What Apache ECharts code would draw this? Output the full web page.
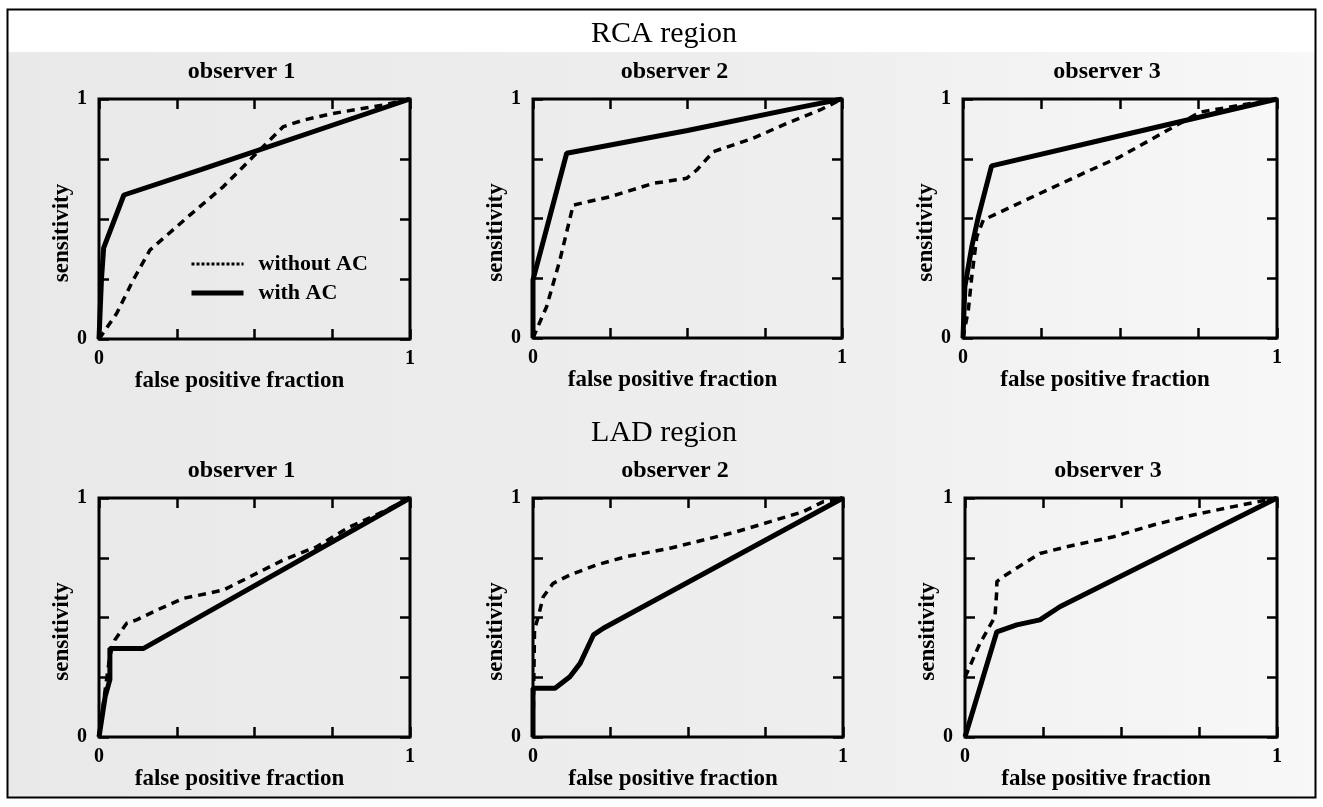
<!DOCTYPE html>
<html>
<head>
<meta charset="utf-8">
<script src="https://cdn.jsdelivr.net/npm/echarts@6/dist/echarts.min.js"></script>
<style>
html,body{margin:0;padding:0;background:#fff}
#main{width:1323px;height:807px}
</style>
</head>
<body>
<div id="main"></div>
<script>
// 刻度
var ticks = [0, 0.25, 0.5, 0.75, 1];
var tickLabels = ['0', '', '', '', '1'];
var regions = ['RCA region', 'LAD region'];
var observers = ['observer 1', 'observer 2', 'observer 3'];
var seriesNames = ['without AC', 'with AC'];

// RCA region  [false positive fraction, sensitivity]
var rca1Without = [[0,0],[0.057,0.107],[0.11,0.246],[0.164,0.371],[0.293,0.517],[0.40,0.635],[0.496,0.76],[0.55,0.83],[0.593,0.885],[0.657,0.912],[0.753,0.94],[0.914,0.975],[1,1]];
var rca1With = [[0,0],[0.008,0.25],[0.015,0.38],[0.08,0.60],[0.33,0.707],[1,1]];
var rca2Without = [[0,0],[0.044,0.131],[0.087,0.326],[0.13,0.556],[0.249,0.591],[0.389,0.647],[0.497,0.668],[0.53,0.703],[0.584,0.78],[0.713,0.836],[0.821,0.898],[0.929,0.954],[1,1]];
var rca2With = [[0,0],[0,0.243],[0.109,0.773],[0.5,0.868],[0.875,0.968],[1,1]];
var rca3Without = [[0,0],[0.017,0.117],[0.028,0.257],[0.044,0.424],[0.065,0.494],[0.224,0.592],[0.383,0.689],[0.5,0.758],[0.681,0.891],[0.755,0.945],[1,1]];
var rca3With = [[0,0],[0.006,0.215],[0.028,0.382],[0.049,0.508],[0.091,0.72],[0.5,0.846],[1,1]];

// LAD region
var lad1Without = [[0,0],[0.02,0.2],[0.035,0.34],[0.051,0.406],[0.089,0.476],[0.121,0.49],[0.186,0.531],[0.271,0.58],[0.346,0.6],[0.40,0.615],[0.486,0.671],[0.593,0.741],[0.7,0.796],[0.807,0.88],[0.914,0.943],[1,1]];
var lad1With = [[0,0],[0.02,0.17],[0.035,0.24],[0.035,0.37],[0.142,0.37],[1,1]];
var lad2Without = [[0,0],[0.005,0.45],[0.017,0.503],[0.033,0.587],[0.065,0.643],[0.119,0.678],[0.205,0.72],[0.302,0.755],[0.442,0.79],[0.549,0.824],[0.657,0.859],[0.765,0.901],[0.872,0.943],[0.937,0.985],[1,1]];
var lad2With = [[0,0],[0,0.204],[0.071,0.204],[0.119,0.252],[0.152,0.308],[0.195,0.427],[0.227,0.455],[1,1]];
var lad3Without = [[0,0.25],[0.048,0.392],[0.096,0.503],[0.102,0.615],[0.102,0.65],[0.123,0.671],[0.24,0.768],[0.326,0.796],[0.476,0.838],[0.603,0.887],[0.731,0.929],[0.86,0.964],[1,1]];
var lad3With = [[0,0],[0.102,0.44],[0.166,0.469],[0.24,0.49],[0.304,0.545],[1,1]];

var panels = [
    [rca1Without, rca1With], [rca2Without, rca2With], [rca3Without, rca3With],
    [lad1Without, lad1With], [lad2Without, lad2With], [lad3Without, lad3With]
];

var serif = "'Liberation Serif', 'DejaVu Serif', serif";
// 每个图的位置
var boxes = [
    {left: 99, top: 99, width: 311, height: 240},
    {left: 533, top: 99, width: 309, height: 239},
    {left: 963, top: 99, width: 314, height: 239},
    {left: 99, top: 498, width: 311, height: 239},
    {left: 533, top: 498, width: 310, height: 239},
    {left: 965, top: 498, width: 312, height: 239}
];

function tickFmt(v) {
    var i = ticks.indexOf(v);
    return i < 0 ? '' : tickLabels[i];
}

var grid = [], xAxis = [], yAxis = [], series = [], title = [];

title.push({text: regions[0], left: 664, top: 19, textAlign: 'center', padding: 0,
    textStyle: {fontFamily: serif, fontSize: 30, fontWeight: 'normal', color: '#000'}});
title.push({text: regions[1], left: 664, top: 418, textAlign: 'center', padding: 0,
    textStyle: {fontFamily: serif, fontSize: 30, fontWeight: 'normal', color: '#000'}});

for (var i = 0; i < boxes.length; i++) {
    var b = boxes[i];
    grid.push({left: b.left, top: b.top, width: b.width, height: b.height,
        show: true, borderColor: '#000', borderWidth: 3, backgroundColor: 'transparent'});
    title.push({text: observers[i % 3], left: b.left + b.width / 2 - 13, top: b.top - 39,
        textAlign: 'center', padding: 0,
        textStyle: {fontFamily: serif, fontSize: 24, fontWeight: 'bold', color: '#000'}});

    var tick = {show: true, inside: true, length: 10, lineStyle: {color: '#000', width: 2.5}};
    var noLine = {show: false, onZero: false};
    // bottom / top
    xAxis.push({gridIndex: i, type: 'value', min: 0, max: 1, interval: 0.25, position: 'bottom',
        name: 'false positive fraction', nameLocation: 'middle', nameGap: 19,
        nameTextStyle: {fontFamily: serif, fontSize: 23, fontWeight: 'bold', color: '#000', padding: [0, 30, 0, 0]},
        axisLine: noLine, axisTick: tick, splitLine: {show: false},
        axisLabel: {formatter: tickFmt, margin: 10, fontFamily: serif, fontSize: 20, fontWeight: 'bold', color: '#000'}});
    xAxis.push({gridIndex: i, type: 'value', min: 0, max: 1, interval: 0.25, position: 'top',
        axisLine: noLine, axisTick: tick, splitLine: {show: false}, axisLabel: {show: false}});
    // left / right
    yAxis.push({gridIndex: i, type: 'value', min: 0, max: 1, interval: 0.25, position: 'left',
        name: 'sensitivity', nameLocation: 'middle', nameGap: 23, nameRotate: 90,
        nameTextStyle: {fontFamily: serif, fontSize: 23, fontWeight: 'bold', color: '#000', padding: [0, 28, 0, 0]},
        axisLine: noLine, axisTick: tick, splitLine: {show: false},
        axisLabel: {formatter: tickFmt, margin: 12, fontFamily: serif, fontSize: 20, fontWeight: 'bold', color: '#000'}});
    yAxis.push({gridIndex: i, type: 'value', min: 0, max: 1, interval: 0.25, position: 'right',
        axisLine: noLine, axisTick: tick, splitLine: {show: false}, axisLabel: {show: false}});

    series.push({name: seriesNames[0], type: 'line', xAxisIndex: 2 * i, yAxisIndex: 2 * i,
        data: panels[i][0], showSymbol: false, symbol: 'none', silent: true,
        lineStyle: {color: '#000', width: 3.5, type: [8, 6]}, itemStyle: {color: '#000'}});
    series.push({name: seriesNames[1], type: 'line', xAxisIndex: 2 * i, yAxisIndex: 2 * i,
        data: panels[i][1], showSymbol: false, symbol: 'none', silent: true,
        lineStyle: {color: '#000', width: 5}, itemStyle: {color: '#000'}});
}

var myChart = echarts.init(document.getElementById('main'));
var option = {
    backgroundColor: '#fff',
    animation: false,
    graphic: [
        {type: 'rect', z: -10, shape: {x: 8, y: 52, width: 1307, height: 745},
            style: {fill: new echarts.graphic.LinearGradient(0, 0, 1, 0, [
                {offset: 0, color: '#e9e9e9'}, {offset: 0.6, color: '#eeeeee'}, {offset: 1, color: '#f8f8f8'}])}},
        {type: 'rect', z: -5, shape: {x: 7.5, y: 9.5, width: 1308, height: 788}, style: {fill: 'none', stroke: '#000', lineWidth: 2}}
    ],
    title: title,
    legend: {
        orient: 'vertical', left: 189, top: 253, padding: 0, itemGap: 7, itemWidth: 52, itemHeight: 14,
        selectedMode: false,
        textStyle: {fontFamily: serif, fontSize: 22, fontWeight: 'bold', color: '#000', padding: [0, 0, 0, 10]},
        data: [
            {name: seriesNames[0], itemStyle: {opacity: 0}, lineStyle: {type: [3, 2], width: 3, color: '#000'}},
            {name: seriesNames[1], itemStyle: {opacity: 0}, lineStyle: {type: 'solid', width: 5, color: '#000'}}
        ]
    },
    grid: grid,
    xAxis: xAxis,
    yAxis: yAxis,
    series: series
};
myChart.setOption(option);
</script>
</body>
</html>
